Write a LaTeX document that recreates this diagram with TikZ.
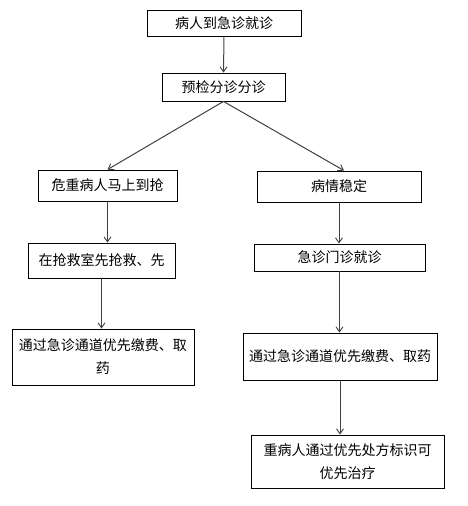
\documentclass[tikz,border=0pt]{standalone}
\usepackage{fontspec}
\newfontfamily\cjk{Noto Sans CJK SC}
\usetikzlibrary{arrows.meta}
\begin{document}
\begin{tikzpicture}[x=1pt,y=-1pt,
  box/.style={draw=black,line width=0.9pt,rectangle,inner sep=0pt,align=center,font=\cjk\fontsize{14}{23}\selectfont},
  arr/.style={draw=black!75,line width=1pt,-{Straight Barb[length=5pt,width=7pt,line width=0.9pt]}}]
\useasboundingbox (0,0) rectangle (468,506);
\node[box,minimum width=154pt,minimum height=26pt] (b1) at (224,23) {\raisebox{-1.5pt}{病人到急诊就诊}};
\node[box,minimum width=123pt,minimum height=28pt] (b2) at (223.5,87) {\raisebox{-1.5pt}{预检分诊分诊}};
\node[box,minimum width=139pt,minimum height=31pt] (b3) at (107.5,185.5) {\raisebox{-1pt}{危重病人马上到抢}};
\node[box,minimum width=164pt,minimum height=31pt] (b4) at (339,186.5) {病情稳定};
\node[box,minimum width=147pt,minimum height=35pt] (b5) at (101.5,260.5) {在抢救室先抢救、先};
\node[box,minimum width=171pt,minimum height=27pt] (b6) at (339.5,257.5) {急诊门诊就诊};
\node[box,minimum width=182pt,minimum height=56pt] (b7) at (103,357) {通过急诊通道优先缴费、取\\药};
\node[box,minimum width=194pt,minimum height=47pt] (b8) at (340,356.5) {通过急诊通道优先缴费、取药};
\node[box,minimum width=193pt,minimum height=53pt] (b9) at (347.5,461.5) {重病人通过优先处方标识可\\优先治疗};
\draw[arr] (b1.south) -- (b2.north);
\draw[arr] (b2.south) -- (b3.north);
\draw[arr] (b2.south) -- ([xshift=5pt]b4.north);
\draw[arr] (b3.south) -- (b3.south |- b5.north);
\draw[arr] (b5.south) -- (b5.south |- b7.north);
\draw[arr] (b4.south) -- (b4.south |- b6.north);
\draw[arr] (b6.south) -- (b6.south |- b8.north);
\draw[arr] (b8.south) -- (b8.south |- b9.north);
\end{tikzpicture}
\end{document}
